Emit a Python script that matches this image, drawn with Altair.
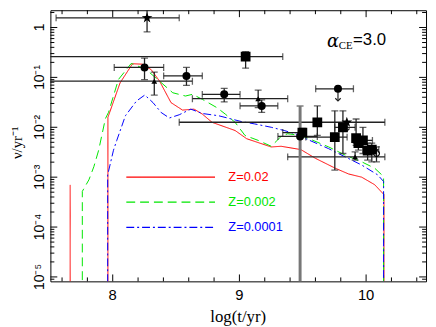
import altair as alt
import pandas as pd

# ---------------- model curves ----------------
z_labels = ["Z=0.02", "Z=0.002", "Z=0.0001"]
z_colors = ["#ff0000", "#00e600", "#0000ff"]
z_dashes = [[1, 0], [9, 5], [8, 3, 2, 3]]

red_x = [7.664, 7.664,
         7.962, 7.962, 8.058, 8.156, 8.234, 8.304, 8.370, 8.460, 8.551, 8.642, 8.707, 8.784,
         8.966, 9.057, 9.251, 9.329, 9.485, 9.602, 9.757, 9.861, 9.965, 10.068, 10.141, 10.141]
red_y = [1e-7, 7.0e-4,
         1e-7, 0.0158, 0.0776, 0.1875, 0.184, 0.1426, 0.0838, 0.0312, 0.0221, 0.0231, 0.0184, 0.01256,
         0.00861, 0.0059, 0.00403, 0.00416, 0.00357, 0.00237, 0.00151, 0.00116, 0.001, 0.000705, 0.000447, 1e-7]
red_seg = [0, 0] + [1] * 24

green_x = [7.760, 7.760, 7.812, 7.851, 7.889, 7.942, 7.967, 8.045, 8.146, 8.263, 8.370, 8.474, 8.574,
           8.629, 8.707, 8.825, 8.888, 8.966, 9.044, 9.148, 9.251, 9.329, 9.381, 9.485, 9.549, 9.705,
           9.835, 9.965, 10.068, 10.138, 10.138]
green_y = [1e-7, 5.19e-4, 8.85e-4, 1.62e-3, 3.47e-3, 0.01486, 0.01995, 0.0906, 0.1905, 0.1445, 0.0838,
           0.0492, 0.0423, 0.0457, 0.0364, 0.0245, 0.0184, 0.01256, 0.00686, 0.00546, 0.00416, 0.00655,
           0.00741, 0.00686, 0.0059, 0.00403, 0.00276, 0.00203, 0.00151, 0.00103, 1e-7]

blue_x = [7.960, 7.960, 8.006, 8.032, 8.100, 8.188, 8.253, 8.318, 8.382, 8.447, 8.525, 8.616, 8.707,
          8.837, 9.018, 9.121, 9.251, 9.353, 9.485, 9.524, 9.703, 9.835, 9.965, 10.092, 10.138, 10.138]
blue_y = [1e-7, 1.11e-3, 3.47e-3, 5.46e-3, 0.0170, 0.0337, 0.0443, 0.0312, 0.0198, 0.01535, 0.01782,
          0.0231, 0.0189, 0.0170, 0.01297, 0.01167, 0.01, 0.00861, 0.00686, 0.0059, 0.00374, 0.00255,
          0.00175, 0.00111, 0.000818, 1e-7]

# ---------------- observed rates ----------------
pt_x = [8.271, 9.049, 8.251, 8.328, 8.582, 8.880, 9.148, 9.176, 9.778, 9.615, 9.848,
        9.817, 9.753, 9.479, 9.497, 9.913, 9.921, 9.939, 9.975, 10.012, 10.045, 10.082]
pt_y = [1.56, 0.261, 0.158, 0.0838, 0.107, 0.0457, 0.0374, 0.0268, 0.059, 0.0126, 0.0126,
        0.010, 0.00634, 0.00655, 0.00785, 0.00255, 0.00606, 0.00483, 0.00546, 0.00342, 0.00357, 0.00298]
pt_shape = ["star", "square", "circle", "triangle", "circle", "circle", "triangle", "circle", "circle",
            "square", "star", "square", "square", "circle", "square", "triangle", "square", "square",
            "square", "square", "square", "open"]
pt_xlo = [7.553, 7.3, 8.012, 7.3, 8.402, 8.707, 8.629, 9.005, 9.602, 8.525, None,
          9.752, 9.524, 9.304, 9.342, 9.381, None, None, 9.90, None, 9.98, None]
pt_xhi = [8.525, 9.342, 8.402, 8.629, 8.707, 9.005, 9.381, 9.303, 9.900, 10.148, None,
          9.913, 9.85, 9.615, 9.524, 10.148, None, None, 10.05, None, 10.10, None]
pt_ylo = [0.815, 0.153, 0.0905, 0.0443, 0.0689, 0.0322, 0.0248, 0.0198, None, 0.00686, None,
          0.00298, 0.00139, 1e-7, 0.0065, 0.0022, 0.00435, 0.0035, 0.00298, 0.0022, 0.00203, 0.00203]
pt_yhi = [2.35, 0.328, 0.244, 0.128, 0.158, 0.0601, 0.0556, 0.0353, None, 0.0268, None,
          0.0214, 0.0214, 0.0268, 0.0095, 0.00321, 0.01466, 0.0065, 0.01, 0.00483, 0.00483, 0.00403]
pt_limit = [None, None, None, None, None, None, None, None, 0.0337, None, 0.00833,
            None, None, None, None, None, None, None, None, None, None, None]
pt_bar = ["k"] * 13 + ["g"] + ["k"] * 8

# axis ticks and labels
x_major = [8, 9, 10]
x_major_labels = ["8", "9", "10"]
x_minor = [7.6, 7.8, 8.2, 8.4, 8.6, 8.8, 9.2, 9.4, 9.6, 9.8, 10.2, 10.4]
y_major = [1e-5, 1e-4, 1e-3, 1e-2, 1e-1, 1]
y_major_labels = ["10⁻⁵", "10⁻⁴", "10⁻³", "10⁻²", "10⁻¹", "1"]
y_minor = [k * 10.0 ** e for e in range(-6, 1) for k in range(2, 10)]
y_minor = [v for v in y_minor if 8.2e-6 < v < 2.2]
x_title = "log(t/yr)"
y_title = "ν/yr⁻¹"

W, H = 381, 275
xscale = alt.Scale(domain=[7.508, 10.473], nice=False, zero=False)
yscale = alt.Scale(type="log", domain=[8.15e-6, 2.218], nice=False)
X = lambda f: alt.X(f, scale=xscale, axis=None)
Y = lambda f: alt.Y(f, scale=yscale, axis=None)

# ---------- dataframes ----------
rows = []
for name, xs, ys, segs in [("Z=0.02", red_x, red_y, red_seg),
                           ("Z=0.002", green_x, green_y, [0] * len(green_x)),
                           ("Z=0.0001", blue_x, blue_y, [0] * len(blue_x))]:
    for i, (a, b, s) in enumerate(zip(xs, ys, segs)):
        rows.append({"x": a, "y": b, "Z": name, "key": f"{name}-{s}", "i": i})
df_lines = pd.DataFrame(rows)

pts = pd.DataFrame({"x": pt_x, "y": pt_y, "shape": pt_shape, "xlo": pt_xlo, "xhi": pt_xhi,
                    "ylo": pt_ylo, "yhi": pt_yhi, "lim": pt_limit, "bar": pt_bar})
xe = pts.dropna(subset=["xlo"])
ye = pts.dropna(subset=["ylo"])
ye_k = ye[ye["bar"] == "k"]
ye_g = ye[ye["bar"] == "g"]
lim = pts.dropna(subset=["lim"])
xcaps = pd.concat([xe[["xlo", "y"]].rename(columns={"xlo": "cx"}),
                   xe[["xhi", "y"]].rename(columns={"xhi": "cx"})])

def ycaps(d):
    return pd.concat([d[["x", "ylo"]].rename(columns={"ylo": "cy"}),
                      d[["x", "yhi"]].rename(columns={"yhi": "cy"})])

lines = alt.Chart(df_lines).mark_line(clip=True, strokeWidth=1).encode(
    x=X("x:Q"), y=Y("y:Q"),
    color=alt.Color("Z:N", scale=alt.Scale(domain=z_labels, range=z_colors), legend=None),
    strokeDash=alt.StrokeDash("Z:N", scale=alt.Scale(domain=z_labels, range=z_dashes), legend=None),
    detail="key:N",
    order="i:Q",
)

ebar_col = "#222222"
grey_col = "#777777"
xbars = alt.Chart(xe).mark_rule(clip=True, color=ebar_col, strokeWidth=1.3).encode(
    x=X("xlo:Q"), x2="xhi:Q", y=Y("y:Q"))
xcap = alt.Chart(xcaps).mark_tick(clip=True, color=ebar_col, orient="vertical", size=7, thickness=1.3).encode(
    x=X("cx:Q"), y=Y("y:Q"))
ybars_k = alt.Chart(ye_k).mark_rule(clip=True, color=ebar_col, strokeWidth=1.3).encode(
    x=X("x:Q"), y=Y("ylo:Q"), y2="yhi:Q")
ycap_k = alt.Chart(ycaps(ye_k)).mark_tick(clip=True, color=ebar_col, orient="horizontal", size=7,
                                          thickness=1.3).encode(x=X("x:Q"), y=Y("cy:Q"))
ybars_g = alt.Chart(ye_g).mark_rule(clip=True, color=grey_col, strokeWidth=3).encode(
    x=X("x:Q"), y=Y("ylo:Q"), y2="yhi:Q")
ycap_g = alt.Chart(ycaps(ye_g)).mark_tick(clip=True, color=grey_col, orient="horizontal", size=7,
                                          thickness=2).encode(x=X("x:Q"), y=Y("cy:Q"))
limbar = alt.Chart(lim).mark_rule(clip=True, color=ebar_col, strokeWidth=1.2).encode(
    x=X("x:Q"), y=Y("y:Q"), y2="lim:Q")
limhead = alt.Chart(lim).mark_point(clip=True, shape="M-1,-1L0,0L1,-1", filled=False, color=ebar_col,
                                    size=30, strokeWidth=1.2, opacity=1).encode(x=X("x:Q"), y=Y("lim:Q"))

star_path = ("M0,-1L0.235,-0.324L0.951,-0.309L0.380,0.124L0.588,0.809L0,0.4L-0.588,0.809"
             "L-0.380,0.124L-0.951,-0.309L-0.235,-0.324Z")
shape_dom = ["star", "square", "circle", "triangle"]
filled_pts = alt.Chart(pts[pts["shape"] != "open"]).mark_point(filled=True, color="black", opacity=1,
                                                               clip=True, strokeWidth=0).encode(
    x=X("x:Q"), y=Y("y:Q"),
    shape=alt.Shape("shape:N", scale=alt.Scale(domain=shape_dom,
                                               range=[star_path, "square", "circle", "triangle-up"]),
                    legend=None),
    size=alt.Size("shape:N", scale=alt.Scale(domain=shape_dom, range=[130, 34, 40, 50]), legend=None))
open_pts = alt.Chart(pts[pts["shape"] == "open"]).mark_point(filled=False, color="black", opacity=1,
                                                             size=36, strokeWidth=1.2).encode(
    x=X("x:Q"), y=Y("y:Q"))

# frame ticks (inward)
def xticks(vals, L):
    d = pd.DataFrame({"t": vals})
    b = alt.Chart(d).mark_rule(color="black", strokeWidth=1)
    return [b.encode(x=X("t:Q"), y=alt.value(H), y2=alt.value(H - L)),
            b.encode(x=X("t:Q"), y=alt.value(0), y2=alt.value(L))]

def yticks(vals, L):
    d = pd.DataFrame({"t": vals})
    b = alt.Chart(d).mark_rule(color="black", strokeWidth=1)
    return [b.encode(y=Y("t:Q"), x=alt.value(0), x2=alt.value(L)),
            b.encode(y=Y("t:Q"), x=alt.value(W), x2=alt.value(W - L))]

tick_layers = xticks(x_major, 7) + xticks(x_minor, 4) + yticks(y_major, 7) + yticks(y_minor, 4)

# tick labels and titles as text
xlab = alt.Chart(pd.DataFrame({"t": x_major, "lab": x_major_labels})).mark_text(
    font="Liberation Sans", fontSize=15, color="black", baseline="middle", align="center").encode(
    x=X("t:Q"), y=alt.value(H + 14), text="lab:N")
ylab = alt.Chart(pd.DataFrame({"t": y_major, "lab": y_major_labels})).mark_text(
    font="Liberation Sans", fontSize=14, color="black", baseline="alphabetic", align="center",
    angle=270).encode(y=Y("t:Q"), x=alt.value(-6), text="lab:N")
xtit = alt.Chart(pd.DataFrame({"lab": [x_title]})).mark_text(
    font="Liberation Serif", fontSize=17, color="black", baseline="middle", align="center").encode(
    x=alt.value(190.5), y=alt.value(311), text="lab:N")
ytit = alt.Chart(pd.DataFrame({"lab": [y_title]})).mark_text(
    font="Liberation Serif", fontSize=15, color="black", baseline="middle", align="center",
    angle=270).encode(x=alt.value(-34), y=alt.value(134.5), text="lab:N")

one = pd.DataFrame({"a": [0]})
alpha = alt.Chart(one).mark_text(text="α", font="DejaVu Serif", fontStyle="italic", fontSize=18,
                                 align="left", baseline="alphabetic", color="black").encode(
    x=alt.value(280.5), y=alt.value(37))
ce = alt.Chart(one).mark_text(text="CE", font="Liberation Serif", fontSize=11, align="left",
                              baseline="alphabetic", color="black").encode(x=alt.value(292.5), y=alt.value(39))
eq = alt.Chart(one).mark_text(text="=3.0", font="Liberation Sans", fontSize=17, align="left",
                              baseline="alphabetic", color="black").encode(x=alt.value(307), y=alt.value(35.5))

legend_layers = []
for k, (lab, col, dash) in enumerate(zip(z_labels, z_colors, z_dashes)):
    yy = [169.3, 194.7, 220.3][k]
    d = pd.DataFrame({"lab": [lab]})
    legend_layers.append(alt.Chart(d).mark_rule(color=col, strokeDash=dash, strokeWidth=1.2).encode(
        x=alt.value(77), x2=alt.value(167), y=alt.value(yy)))
    legend_layers.append(alt.Chart(d).mark_text(color=col, font="Liberation Sans", fontSize=13,
                                                align="left", baseline="middle").encode(
        x=alt.value(180.5), y=alt.value(yy), text="lab:N"))

chart = alt.layer(lines, xbars, xcap, ybars_g, ycap_g, ybars_k, ycap_k, limbar, limhead, filled_pts, open_pts,
                  *tick_layers, xlab, ylab, xtit, ytit, alpha, ce, eq, *legend_layers).properties(
    width=W, height=H,
    padding={"left": 43, "top": 0, "right": 2, "bottom": 43},
    autosize=alt.AutoSizeParams(type="none"),
    background="white",
).configure_view(stroke="black", strokeWidth=1)

chart.save("out.html", embed_options={"renderer": "svg", "actions": False})
